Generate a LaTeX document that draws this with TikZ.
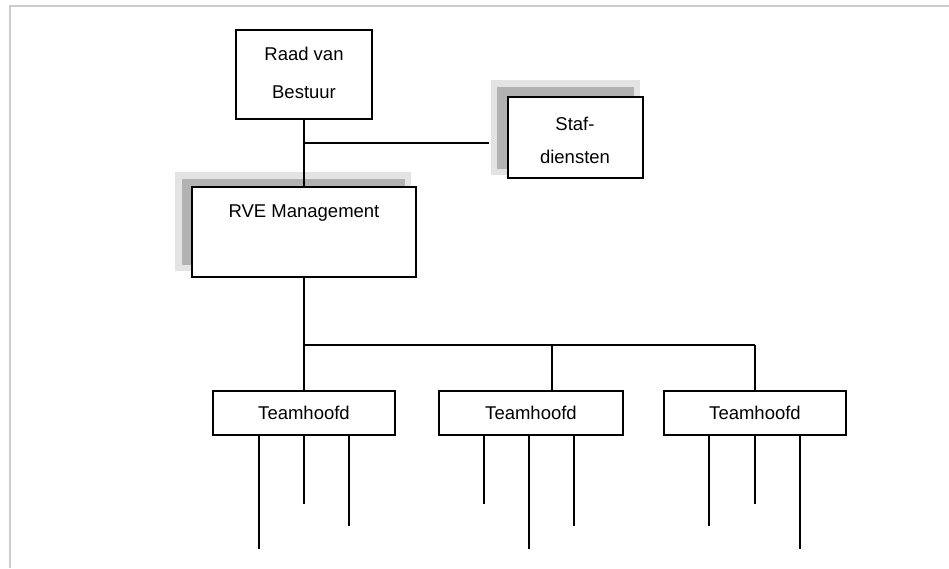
\documentclass[tikz,border=0pt]{standalone}
\usepackage{fontspec}
\setmainfont{Liberation Sans}
\begin{document}
\begin{tikzpicture}[x=1pt,y=-1pt,
  box/.style={draw=black, line width=1.6pt, fill=white, rectangle, inner sep=0pt, outer sep=0pt, anchor=north west},
  link/.style={draw=black, line width=1.6pt},
  lbl/.style={font=\fontsize{18.5}{22}\selectfont, inner sep=0pt, anchor=base},
  shadelight/.style={fill=black!11},
  shadedark/.style={fill=black!30},
  frame/.style={draw=black!20, line width=1.2pt}]
\useasboundingbox (0,0) rectangle (949,568);
\fill[white] (0,0) rectangle (949,568);
\draw[frame] (10,568) -- (10,6) -- (949,6);

% soft shadows behind the staff and management boxes
\fill[shadelight] (491,80) rectangle (640,175);
\fill[shadedark] (497,87) rectangle (634,169);
\fill[shadelight] (175,172) rectangle (411,271);
\fill[shadedark] (182,179) rectangle (405,265);

% boxes
\node[box, minimum width=136pt, minimum height=89pt] (raad) at (236,30) {};
\node[box, minimum width=135pt, minimum height=81pt] (staf) at (508,97) {};
\node[box, minimum width=224pt, minimum height=90pt] (rve) at (192,187) {};
\node[box, minimum width=182pt, minimum height=44pt] (t1) at (213,391) {};
\node[box, minimum width=184pt, minimum height=44pt] (t2) at (439,391) {};
\node[box, minimum width=182pt, minimum height=44pt] (t3) at (664,391) {};

% labels
\node[lbl] (raadtxta) at (304,60) {Raad van};
\node[lbl] (raadtxtb) at (304,98) {Bestuur};
\node[lbl] (staftxta) at (575,130) {Staf-};
\node[lbl] (staftxtb) at (575,163) {diensten};
\node[lbl] (rvetxt) at (304,217) {RVE Management};
\node[lbl, anchor=center] (t1txt) at (t1.center) {Teamhoofd};
\node[lbl, anchor=center] (t2txt) at (t2.center) {Teamhoofd};
\node[lbl, anchor=center] (t3txt) at (t3.center) {Teamhoofd};

% top connectors
\coordinate (j1) at (304,143);
\coordinate (stafend) at (489,143);
\draw[link] (raad.south) -- (rve.north);
\draw[link] (j1) -- (stafend);

% branch to the team leads
\coordinate (bus) at (304,345);
\coordinate (b2) at (552,345);
\coordinate (b3) at (755,345);
\draw[link] (rve.south) -- (bus) -- (b3);
\draw[link] (bus) -- (bus |- t1.north);
\draw[link] (b2) -- (b2 |- t2.north);
\draw[link] (b3) -- (b3 |- t3.north);

% lines below each team lead
\foreach \n/\xa/\ya/\xb/\yb/\xc/\yc in {t1/259/549/304/504/349/526,
                                        t2/484/504/529/549/574/526,
                                        t3/709/526/755/504/800/549} {
  \coordinate (\n a) at (\xa,\ya);
  \coordinate (\n b) at (\xb,\yb);
  \coordinate (\n c) at (\xc,\yc);
  \draw[link] (\n a |- \n.south) -- (\n a);
  \draw[link] (\n b |- \n.south) -- (\n b);
  \draw[link] (\n c |- \n.south) -- (\n c);
}
\end{tikzpicture}
\end{document}
